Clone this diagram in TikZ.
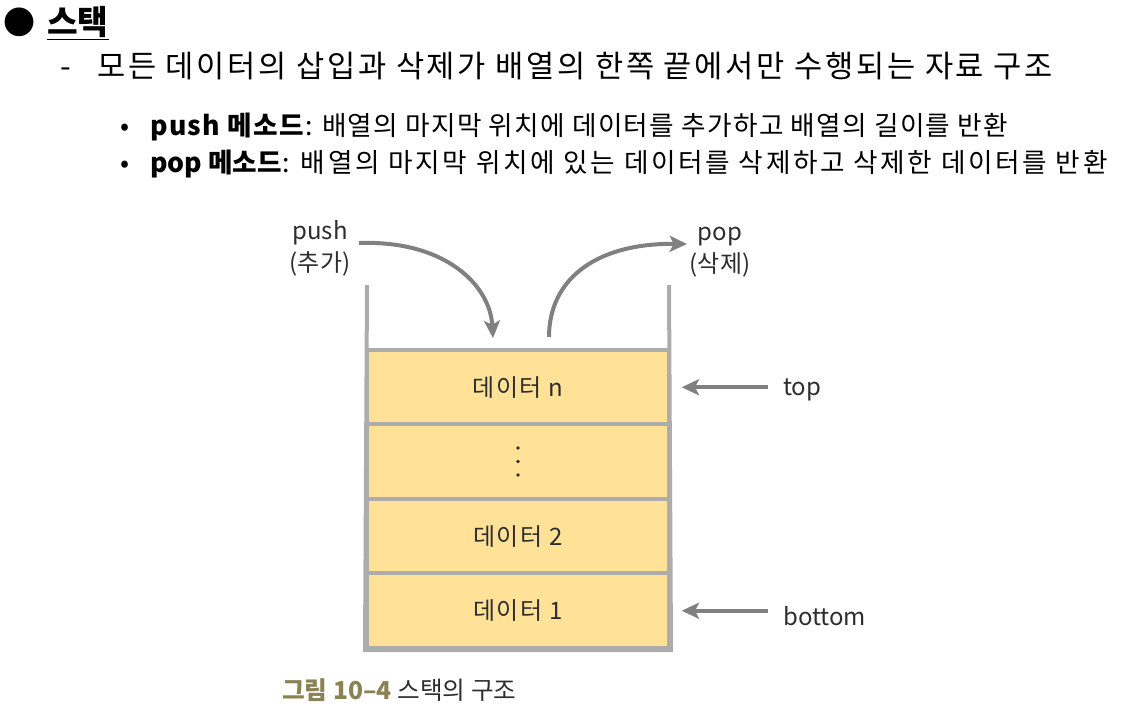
\documentclass[tikz,border=0pt]{standalone}
\usepackage{fontspec}
\setmainfont{Noto Sans CJK KR}
\usetikzlibrary{arrows.meta}
\definecolor{wallgray}{RGB}{172,172,172}
\definecolor{arrgray}{RGB}{128,128,128}
\definecolor{cellfill}{RGB}{255,226,152}
\definecolor{capolive}{RGB}{138,130,84}
\definecolor{txtdark}{RGB}{45,45,45}
\tikzset{
  hdr/.style={inner sep=0pt, anchor=base west},
  cellbox/.style={draw=wallgray, line width=3pt, fill=cellfill, minimum width=226.5pt, minimum height=55.9pt, inner sep=0pt, font=\fontsize{18pt}{20pt}\selectfont\addfontfeature{LetterSpace=6}, text=txtdark},
  wall/.style={draw=wallgray, line width=3pt},
  arr/.style={draw=arrgray, line width=3pt, -{Stealth[length=13pt,width=12pt,inset=3pt]}},
  lbl/.style={font=\fontsize{18pt}{24pt}\selectfont, text=txtdark, align=center, inner sep=3pt}
}
\begin{document}
\begin{tikzpicture}[x=0.75pt,y=-0.75pt]
\useasboundingbox (0,0) rectangle (1122,711);
% header text
\node[hdr, font=\fontsize{24pt}{26pt}\selectfont] (b1) at (3,34) {●};
\node[hdr, font=\fontsize{25pt}{28pt}\selectfont\bfseries] (t1) at (47,34) {\underline{스택}};
\node[hdr, font=\fontsize{23pt}{28pt}\selectfont] (d2) at (60,77) {-};
\node[hdr, font=\fontsize{23pt}{28pt}\selectfont\addfontfeature{LetterSpace=8.8}] (t2) at (97,77) {모든 데이터의 삽입과 삭제가 배열의 한쪽 끝에서만 수행되는 자료 구조};
\node[hdr, font=\fontsize{20pt}{24pt}\selectfont] (b3) at (120,135) {•};
\node[hdr, font=\fontsize{20pt}{24pt}\selectfont\addfontfeature{LetterSpace=4.8}] (t3) at (150,135) {\textbf{push 메소드}: 배열의 마지막 위치에 데이터를 추가하고 배열의 길이를 반환};
\node[hdr, font=\fontsize{20pt}{24pt}\selectfont] (b4) at (120,172) {•};
\node[hdr, font=\fontsize{20pt}{24pt}\selectfont] (t4) at (150,172) {\textbf{pop 메소드}\addfontfeature{LetterSpace=10}: 배열의 마지막 위치에 있는 데이터를 삭제하고 삭제한 데이터를 반환};
% stack cells
\node[cellbox] (c1) at (518,387.25) {데이터 n};
\node[cellbox] (c2) at (518,461.75) {};
\node[cellbox] (c3) at (518,536.25) {데이터 2};
\node[cellbox] (c4) at (518,610.75) {데이터 1};
\fill[txtdark] (518,448) circle (1.8) (518,461.5) circle (1.8) (518,475) circle (1.8);
% walls
\coordinate (wl) at (367,285);
\coordinate (wr) at (669,285);
\draw[wall] (wl) -- (c4.south west) -- (c4.south east) -- (wr);
% push / pop
\node[lbl] (push) at (320,248) {push\\(추가)};
\node[lbl] (pop) at (720,252) {pop\\(삭제)};
\coordinate (ps) at (359,243);
\coordinate (pe) at (493,338);
\coordinate (qs) at (549,337);
\coordinate (qe) at (687,244);
\draw[arr] (ps) .. controls (445,240) and (490,285) .. (pe);
\draw[arr] (qs) .. controls (549,280) and (595,243) .. (qe);
% top / bottom
\node[lbl, anchor=west] (top) at (779,390) {top};
\node[lbl, anchor=west] (bottom) at (779,616) {bottom};
\draw[arr, shorten <=8pt, shorten >=8pt] (top.west |- c1.east) -- (c1.east);
\draw[arr, shorten <=8pt, shorten >=8pt] (bottom.west |- c4.east) -- (c4.east);
% caption
\node[hdr, font=\fontsize{18.5pt}{20pt}\selectfont, text=txtdark] (cap) at (282,699) {{\bfseries\color{capolive}그림 10–4} 스택의 구조};
\end{tikzpicture}
\end{document}
